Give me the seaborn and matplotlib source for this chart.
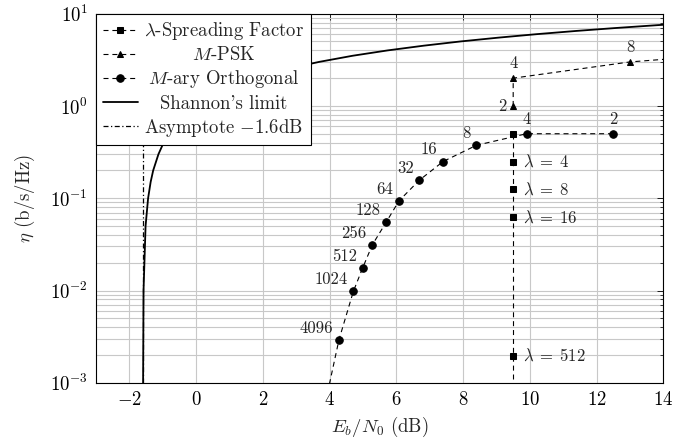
import numpy as np
import pandas as pd
import matplotlib
matplotlib.use("Agg")
import matplotlib.pyplot as plt
import seaborn as sns
from matplotlib.ticker import LogLocator, MultipleLocator, NullLocator, NullFormatter

# ---------------- data ----------------
# M-ary orthogonal signalling (M, Eb/N0 [dB], eta)
mo_M = ["2", "4", "8", "16", "32", "64", "128", "256", "512", "1024", "4096", ""]
mo_ebn0 = [12.49, 9.90, 8.40, 7.40, 6.68, 6.08, 5.69, 5.28, 4.99, 4.71, 4.28, 3.96]
mo_eta = [0.5, 0.5, 0.375, 0.25, 0.156, 0.0938, 0.0547, 0.0313, 0.0176, 0.00977, 0.00293, 0.000854]

# M-PSK
psk_M = ["2", "4", "8", ""]
psk_ebn0 = [9.5, 9.5, 13.0, 17.5]
psk_eta = [1.0, 2.0, 3.0, 4.0]

# lambda spreading factor
sf_lam = ["", "4", "8", "16", "512", ""]
sf_ebn0 = [9.5, 9.5, 9.5, 9.5, 9.5, 9.5]
sf_eta = [0.5, 0.25, 0.125, 0.0625, 0.00195, 0.000244]

# Shannon limit
sh_eta = [0.0005, 0.001, 0.01, 0.05, 0.1, 0.15, 0.2, 0.3, 0.4, 0.5, 0.6, 0.7, 0.8, 1.0,
          1.25, 1.5, 1.75, 2.0, 2.5, 3.0, 3.5, 4.0, 4.5, 5.0, 5.5, 6.0, 6.5, 7.0, 7.5, 8.0]
sh_ebn0 = [-1.591, -1.590, -1.577, -1.516, -1.440, -1.364, -1.288, -1.13, -0.976, -0.817,
           -0.657, -0.496, -0.332, 0.0, 0.42, 0.86, 1.31, 1.76, 2.70, 3.68, 4.69, 5.74,
           6.82, 7.92, 9.06, 10.21, 11.39, 12.59, 13.80, 15.03]

# asymptote
as_ebn0 = [-1.6, -1.6]
as_eta = [1e-3, 10.0]

# ---------------- style ----------------
sns.set_theme(style="white")
plt.rcParams.update({
    "font.family": "serif",
    "font.serif": ["cmr10", "DejaVu Serif"],
    "mathtext.fontset": "cm",
    "axes.formatter.use_mathtext": True,
    "axes.unicode_minus": False,
    "font.size": 13,
})

fig, ax = plt.subplots(figsize=(6.91, 4.41), dpi=100)
fig.subplots_adjust(left=0.139, right=0.96, top=0.969, bottom=0.132)

dash = (0, (4.5, 3.5))
common = dict(ax=ax, sort=False, estimator=None, color="black")

sf = pd.DataFrame({"x": sf_ebn0, "y": sf_eta})
sns.lineplot(data=sf, x="x", y="y", marker="s", markersize=4.8, lw=0.8,
             linestyle=dash, markevery=[0, 1, 2, 3, 4],
             markeredgecolor="black", **common)
h_sf = ax.lines[-1]

psk = pd.DataFrame({"x": psk_ebn0, "y": psk_eta})
sns.lineplot(data=psk, x="x", y="y", marker="^", markersize=4.6, lw=0.8,
             linestyle=dash, markevery=[0, 1, 2],
             markeredgecolor="black", **common)
h_psk = ax.lines[-1]

mo = pd.DataFrame({"x": mo_ebn0, "y": mo_eta})
sns.lineplot(data=mo, x="x", y="y", marker="o", markersize=5.4, lw=0.8,
             linestyle=dash, markevery=list(range(11)),
             markeredgecolor="black", **common)
h_mo = ax.lines[-1]

sh = pd.DataFrame({"x": sh_ebn0, "y": sh_eta})
sns.lineplot(data=sh, x="x", y="y", lw=1.3, **common)
h_sh = ax.lines[-1]

asy = pd.DataFrame({"x": as_ebn0, "y": as_eta})
sns.lineplot(data=asy, x="x", y="y", lw=0.9, linestyle=(0, (4, 2, 1, 2)), **common)
h_as = ax.lines[-1]

ax.set_yscale("log")
ax.set_xlim(-3, 14)
ax.set_ylim(1e-3, 10)

# annotations
afs = 12
for lab, x, y in zip(mo_M, mo_ebn0, mo_eta):
    if not lab:
        continue
    if lab in ("2", "4"):
        ax.annotate(lab, (x, y), xytext=(0, 5), textcoords="offset points",
                    ha="center", va="bottom", fontsize=afs)
    else:
        ax.annotate(lab, (x, y), xytext=(-4, 3), textcoords="offset points",
                    ha="right", va="bottom", fontsize=afs)

for lab, x, y in zip(psk_M, psk_ebn0, psk_eta):
    if not lab:
        continue
    if lab == "2":
        ax.annotate(lab, (x, y), xytext=(-5, 0), textcoords="offset points",
                    ha="right", va="center", fontsize=afs)
    else:
        ax.annotate(lab, (x, y), xytext=(0, 5), textcoords="offset points",
                    ha="center", va="bottom", fontsize=afs)

for lab, x, y in zip(sf_lam, sf_ebn0, sf_eta):
    if not lab:
        continue
    ax.annotate(r"$\lambda\;=\;%s$" % lab, (x, y), xytext=(7, 0), textcoords="offset points",
                ha="left", va="center", fontsize=afs)

# ticks and grid
ax.xaxis.set_major_locator(MultipleLocator(2))
ax.xaxis.set_minor_locator(NullLocator())
ax.yaxis.set_major_locator(LogLocator(base=10, numticks=10))
ax.yaxis.set_minor_locator(LogLocator(base=10, subs=np.arange(2, 10), numticks=20))
ax.yaxis.set_minor_formatter(NullFormatter())
ax.tick_params(which="both", direction="in", top=True, right=True, colors="black",
               labelsize=13.5, pad=6)
ax.tick_params(which="major", length=4, width=0.6)
ax.tick_params(which="minor", length=2.5, width=0.5)
ax.grid(which="major", color="#c8c8c8", lw=0.8)
ax.grid(which="minor", axis="y", color="#c8c8c8", lw=0.8)
ax.set_axisbelow(True)
for s in ax.spines.values():
    s.set_color("black")
    s.set_linewidth(0.8)

ax.set_xlabel(r"$E_b/N_0$ (dB)", fontsize=13.5, labelpad=4)
ax.set_ylabel(r"$\eta$ (b/s/Hz)", fontsize=13.5, labelpad=9)

leg = ax.legend([h_sf, h_psk, h_mo, h_sh, h_as],
                [r"$\lambda$-Spreading Factor", r"$M$-PSK", r"$M$-ary Orthogonal",
                 "Shannon's limit", r"Asymptote $-1.6$dB"],
                loc="upper left", borderaxespad=0, fancybox=False, framealpha=1,
                edgecolor="black", fontsize=13.5, handlelength=1.9, labelspacing=0.22,
                borderpad=0.35, handletextpad=0.3)
leg.get_frame().set_linewidth(0.8)

# centre the legend texts in their column (as in the reference)
fig.canvas.draw()
texts = leg.get_texts()
widths = [t.get_window_extent().width for t in texts]
W = max(widths)
for t, w in zip(texts, widths):
    t.set_x((W - w) / 2.0)

fig.savefig("out.png", dpi=100)
